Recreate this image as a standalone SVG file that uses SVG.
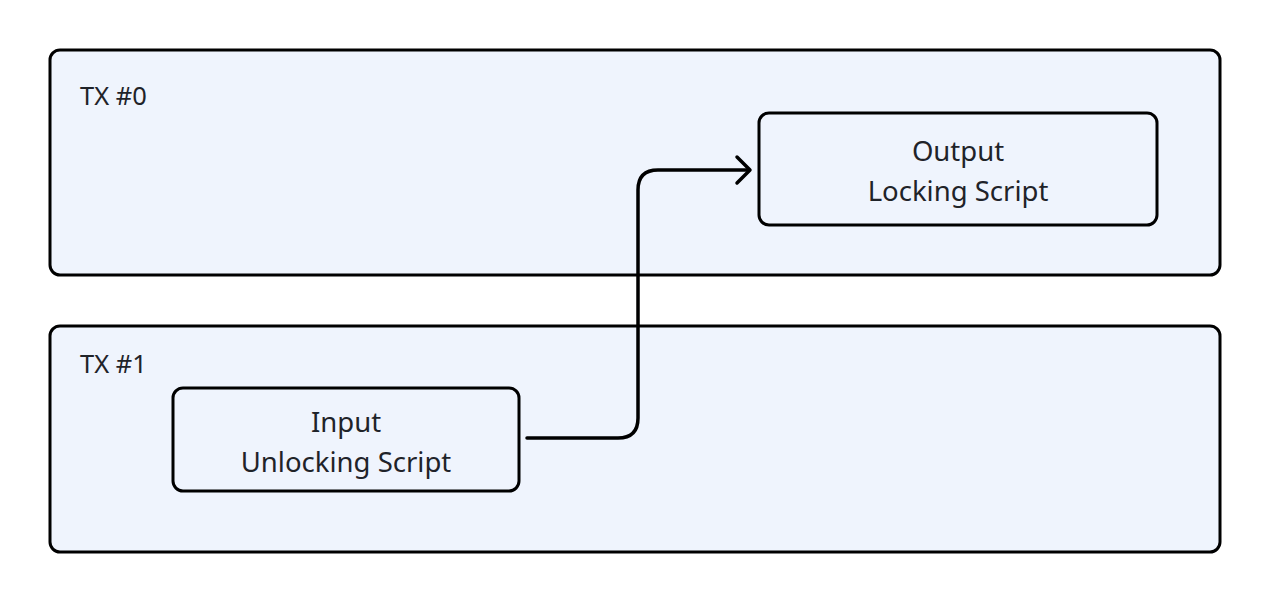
<svg xmlns="http://www.w3.org/2000/svg" width="1270" height="604" viewBox="0 0 1270 604">
<style>
.cont{fill:#eff4fd;stroke:#000;stroke-width:3}
.node{fill:#eff4fd;stroke:#000;stroke-width:3}
text{font-family:"Noto Sans","Open Sans",sans-serif;font-size:25px;fill:#1f2329}
.c{text-anchor:middle;font-size:27.5px}
.edge{fill:none;stroke:#000;stroke-width:3.5;stroke-linecap:round;stroke-linejoin:round}
</style>
<rect width="1270" height="604" fill="#fff"/>
<g id="tx0">
<rect class="cont" x="50" y="50" width="1170" height="225" rx="10"/>
<text x="80" y="105" style="font-size:25.5px">TX #0</text>
</g>
<g id="tx1">
<rect class="cont" x="50" y="326" width="1170" height="226" rx="10"/>
<text x="80" y="373" style="font-size:25.5px">TX #1</text>
</g>
<g id="output">
<rect class="node" x="759" y="113" width="398" height="112" rx="10"/>
<text class="c" x="958" y="161">Output</text>
<text class="c" x="958" y="201">Locking Script</text>
</g>
<g id="input">
<rect class="node" x="173" y="388" width="346" height="103" rx="10"/>
<text class="c" x="346" y="432">Input</text>
<text class="c" x="346" y="472">Unlocking Script</text>
</g>
<g id="connectors">
<path class="edge" d="M527 438 H618 Q638 438 638 418 V190 Q638 170 658 170 H749"/>
<path class="edge" d="M737 157 L750 170 L737 183"/>
</g>
</svg>
